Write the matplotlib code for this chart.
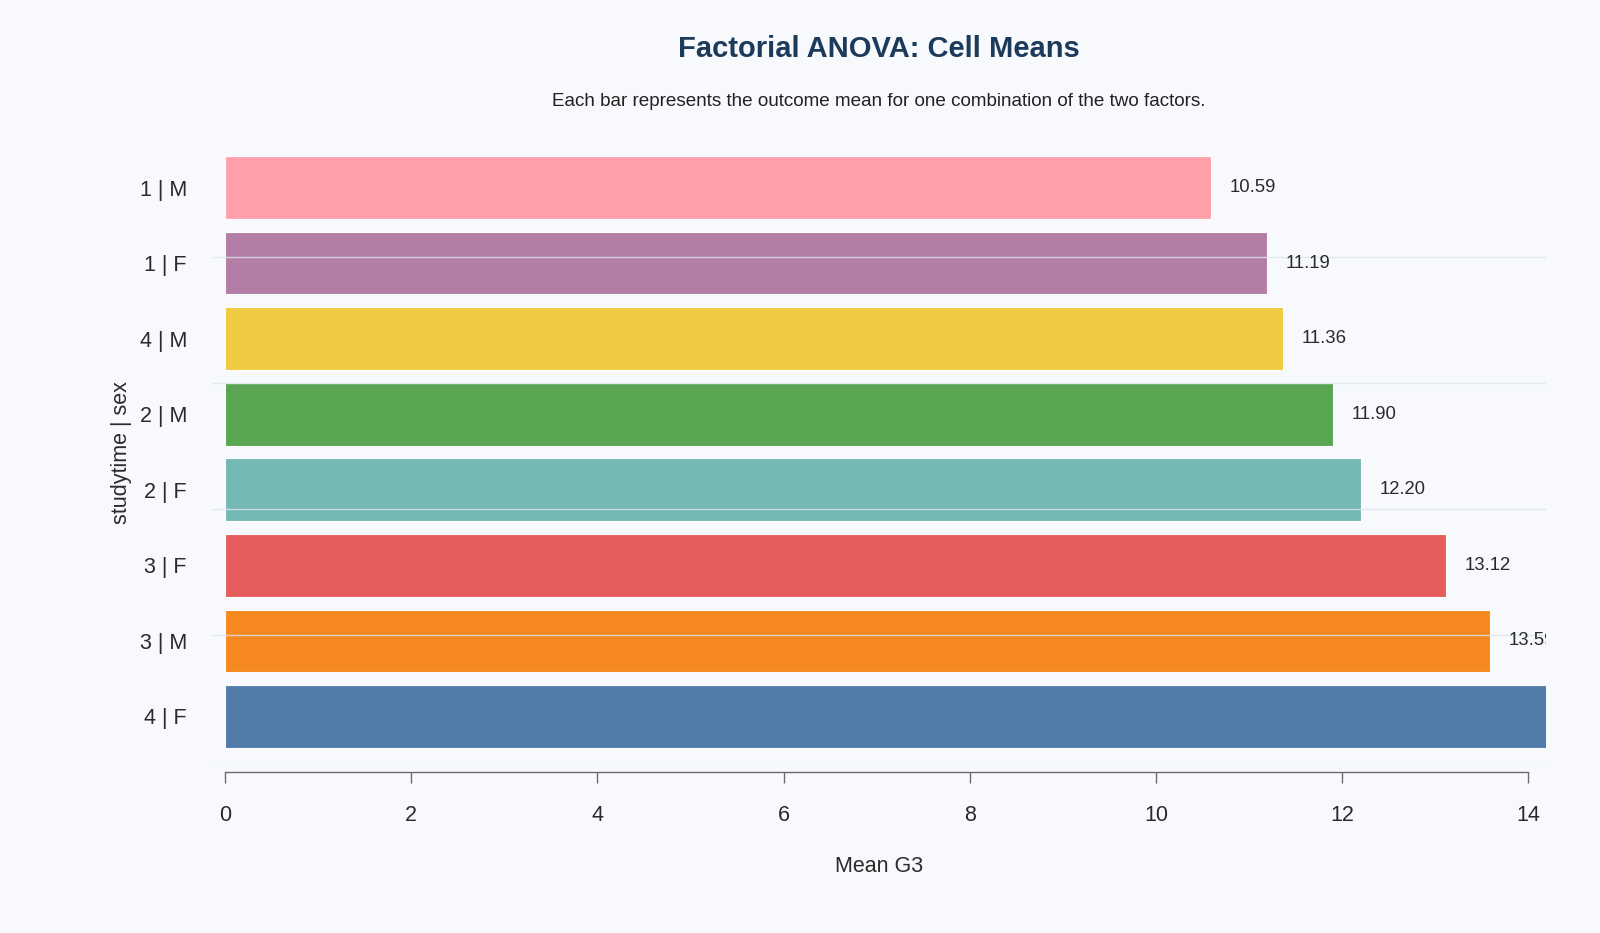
import numpy as np
import matplotlib
matplotlib.use("Agg")
import matplotlib.pyplot as plt

plt.rcParams['font.family'] = ['Liberation Sans', 'DejaVu Sans']

# ---------- Data ----------
cells = ["1 | M", "1 | F", "4 | M", "2 | M", "2 | F", "3 | F", "3 | M", "4 | F"]
means = [10.59, 11.19, 11.36, 11.90, 12.20, 13.12, 13.59, 14.67]
colors = ["#FF9DA6", "#B279A2", "#EECA3B", "#54A24B",
          "#72B7B2", "#E45756", "#F58518", "#4C78A8"]
x_ticks = [0, 2, 4, 6, 8, 10, 12, 14]

BG = "#F7F9FC"
TXT = "#2A2A2A"

fig = plt.figure(figsize=(16, 9.33), dpi=100, facecolor=BG)
ax = fig.add_axes([212 / 1600, 1 - 761 / 933, (1546 - 212) / 1600, (761 - 131.6) / 933])
ax.set_facecolor(BG)

x_min, x_max = -0.14, 14.19
ypos = np.arange(len(cells))
ax.barh(ypos, means, height=0.83, color=colors, alpha=0.97,
        edgecolor="white", linewidth=0.8, zorder=2)

# value labels (those pushed past the axis edge are not shown)
for y, v in zip(ypos, means):
    if v + 0.2 < x_max:
        ax.text(v + 0.2, y, f"{v:.2f}", va="center", ha="left",
                fontsize=13.3, color=TXT, clip_on=True, zorder=4)

y_top, y_bot = -0.74, 7.59
ax.set_ylim(y_bot, y_top)
ax.set_xlim(x_min, x_max)

# faint horizontal grid drawn over the bars
for gy in np.linspace(y_top, y_bot, 6)[1:]:
    ax.axhline(gy, color="#DDE4EE", lw=1, alpha=0.8, zorder=3)

for s in ["top", "right", "left"]:
    ax.spines[s].set_visible(False)
ax.spines["bottom"].set_position(("outward", 8))
ax.spines["bottom"].set_bounds(0, 14)
ax.spines["bottom"].set_color("#6B6B6B")
ax.spines["bottom"].set_linewidth(1)

ax.set_xticks(x_ticks)
ax.set_xticklabels([str(t) for t in x_ticks])
ax.tick_params(axis="x", direction="out", length=8, width=1, color="#6B6B6B",
               pad=16, labelsize=15.5, labelcolor=TXT)
ax.set_yticks(ypos)
ax.set_yticklabels(cells)
ax.tick_params(axis="y", length=0, pad=18, labelsize=15.5, labelcolor=TXT)

ax.set_xlabel("Mean G3", fontsize=15.5, color=TXT, va="center")
ax.xaxis.set_label_coords(0.5, (761 - 867) / (761 - 131.6))
ax.set_ylabel("studytime | sex", fontsize=15.5, color=TXT, va="center")
ax.yaxis.set_label_coords((121 - 212) / (1546 - 212), 0.49)

fig.text(879 / 1600, 1 - 49 / 933, "Factorial ANOVA: Cell Means",
         ha="center", va="center", fontsize=21, fontweight="bold", color="#1C3A5A")
fig.text(879 / 1600, 1 - 101 / 933,
         "Each bar represents the outcome mean for one combination of the two factors.",
         ha="center", va="center", fontsize=13.6, color="#222222")

fig.savefig("out.png", dpi=100, facecolor=BG)
